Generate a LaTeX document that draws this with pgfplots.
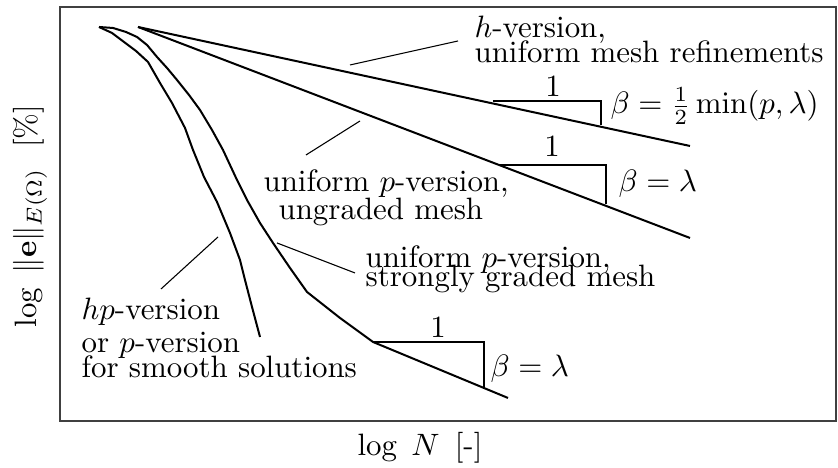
\documentclass[border=0pt]{standalone}
\usepackage{pgfplots}
\pgfplotsset{compat=1.18}
\begin{document}
\begin{tikzpicture}
% one axis unit = 0.3236pt
\path[use as bounding box] (0,0) rectangle (271.18pt,151.44pt);
\begin{axis}[
  at={(19.42pt,15.21pt)}, anchor=south west,
  scale only axis, width=251.11pt, height=133.97pt,
  xmin=60, xmax=836, ymin=47, ymax=461,
  ticks=none, clip=false,
  axis line style={black!75, line width=0.4pt},
]
% convergence curves
\addplot[black, line width=0.65pt] coordinates {(138,441) (690,322)};
\addplot[black, line width=0.65pt] coordinates {(138,441) (690,230)};
\addplot[black, line width=0.65pt, line join=round] coordinates {
  (99,441) (112,435) (124,426) (136,417) (148,406) (160,385) (172,365)
  (185,340) (193,318) (204,291) (217,266) (230,235) (240,208) (245,188)
  (252,161) (260,131)};
\addplot[black, line width=0.65pt, line join=round] coordinates {
  (99,441) (113,440) (126,436) (137,431) (147,423) (157,411) (167,400)
  (177,388) (189,373) (200,358) (212,338) (223,318) (237,288) (247,268)
  (260,245) (273,225) (290,200) (307,176) (340,150) (373,126) (508,70)};
% slope triangles
\addplot[black, line width=0.35pt] coordinates {(493,367) (601,367) (601,343)};
\addplot[black, line width=0.35pt] coordinates {(500,303) (606,303) (606,264)};
\addplot[black, line width=0.35pt] coordinates {(373,126) (484,126) (484,81)};
% leader lines
\draw[line width=0.35pt] (axis cs:350,403) -- (axis cs:458,427);
\draw[line width=0.35pt] (axis cs:306,313) -- (axis cs:360,347);
\draw[line width=0.35pt] (axis cs:277,225) -- (axis cs:355,195);
\draw[line width=0.35pt] (axis cs:161,179) -- (axis cs:218,231);
% annotations
\node[anchor=base west, inner sep=0pt] at (axis cs:474,430) {$h$-version,};
\node[anchor=base west, inner sep=0pt] at (axis cs:474,405) {uniform mesh refinements};
\node[anchor=base, inner sep=0pt] at (axis cs:553,371) {1};
\node[anchor=base west, inner sep=0pt] at (axis cs:610,354) {$\beta = \frac{1}{2}\min(p,\lambda)$};
\node[anchor=base, inner sep=0pt] at (axis cs:552,311) {1};
\node[anchor=base west, inner sep=0pt] at (axis cs:618,276) {$\beta = \lambda$};
\node[anchor=base west, inner sep=0pt] at (axis cs:263,276) {uniform $p$-version,};
\node[anchor=base west, inner sep=0pt] at (axis cs:278,248) {ungraded mesh};
\node[anchor=base west, inner sep=0pt] at (axis cs:365,200) {uniform $p$-version,};
\node[anchor=base west, inner sep=0pt] at (axis cs:365,181) {strongly graded mesh};
\node[anchor=base, inner sep=0pt] at (axis cs:438,130) {1};
\node[anchor=base west, inner sep=0pt] at (axis cs:490,91) {$\beta = \lambda$};
\node[anchor=base west, inner sep=0pt] at (axis cs:81,148) {$hp$-version};
\node[anchor=base west, inner sep=0pt] at (axis cs:81,115) {or $p$-version};
\node[anchor=base west, inner sep=0pt] at (axis cs:81,90) {for smooth solutions};
% axis labels
\node[anchor=base west, inner sep=0pt] at (axis cs:357,12) {$\log\;N$\ \,[-]};
\node[rotate=90, inner sep=0pt] at (axis cs:30,252) {$\log\;\|\mathbf{e}\|_{E(\Omega)}$\ \ [\%]};
\end{axis}
\end{tikzpicture}
\end{document}
